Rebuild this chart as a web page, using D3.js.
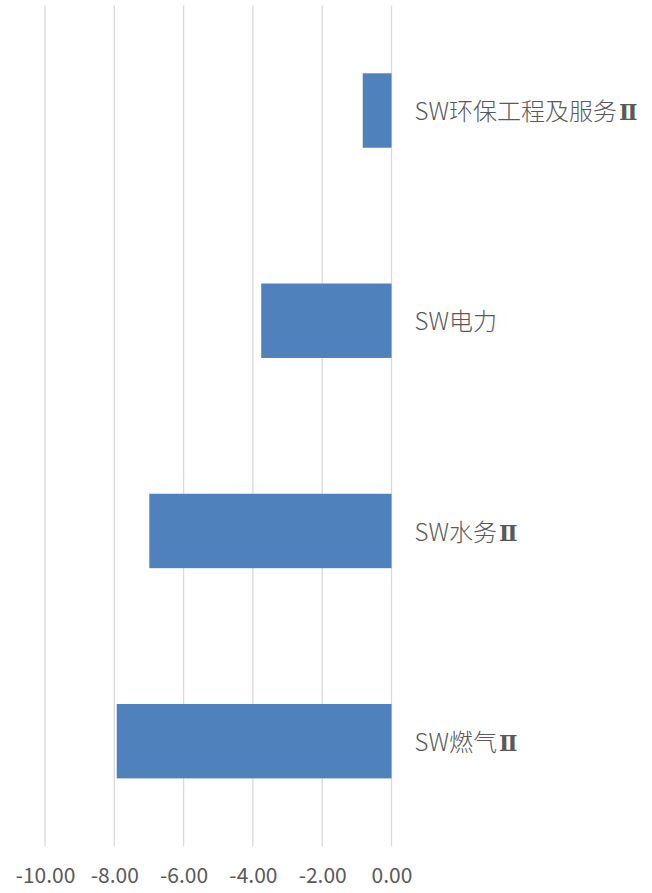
<!DOCTYPE html>
<html>
<head>
<meta charset="utf-8">
<script src="https://cdn.jsdelivr.net/npm/d3@7"></script>
<style>
  body { margin: 0; background: #fff; }
  .grid line { stroke: #d9d9d9; stroke-width: 1.3px; }
  .tick text { fill: #595959; }
</style>
</head>
<body>
<svg width="652" height="893"></svg>
<script>
var categories = ["SW环保工程及服务Ⅱ", "SW电力", "SW水务Ⅱ", "SW燃气Ⅱ"];
var values = [-0.83, -3.76, -6.99, -7.93];
var xTicks = [-10, -8, -6, -4, -2, 0];

var svg = d3.select("svg"),
    plotLeft = 45, plotRight = 391.5,
    plotTop = 5.4, plotBottom = 846.3;

var x = d3.scaleLinear()
    .domain([-10, 0])
    .range([plotLeft, plotRight]);

var y = d3.scaleBand()
    .domain(categories)
    .range([plotTop, plotBottom])
    .paddingInner(0.646)
    .paddingOuter(0.323);

// vertical gridlines
svg.append("g")
    .attr("class", "grid")
    .selectAll("line")
    .data(xTicks)
    .enter().append("line")
      .attr("x1", function(d) { return x(d); })
      .attr("x2", function(d) { return x(d); })
      .attr("y1", plotTop)
      .attr("y2", plotBottom);

svg.append("g")
    .selectAll("rect")
    .data(values)
    .enter().append("rect")
      .attr("x", function(d) { return x(d); })
      .attr("width", function(d) { return x(0) - x(d); })
      .attr("y", function(d, i) { return y(categories[i]); })
      .attr("height", y.bandwidth())
      .style("fill", "#4f81bd");

// x axis labels (plain hyphen, like the original)
var fmt = function(d) { return d3.format(".2f")(d).replace("\u2212", "-"); };
var xAxis = svg.append("g")
    .attr("transform", "translate(0," + plotBottom + ")")
    .call(d3.axisBottom(x).tickValues(xTicks).tickFormat(fmt).tickSize(0).tickPadding(22));
xAxis.select(".domain").remove();
xAxis.selectAll("text")
    .style("font-family", "'Noto Sans CJK SC', 'Noto Sans', sans-serif")
    .style("font-size", "21px");

// category labels to the right of zero
var yAxis = svg.append("g")
    .attr("transform", "translate(" + x(0) + ",0)")
    .call(d3.axisRight(y).tickSize(0).tickPadding(23));
yAxis.select(".domain").remove();
yAxis.selectAll("text")
    .attr("dy", "0.4em")
    .style("font-family", "'Noto Sans CJK SC', sans-serif")
    .style("font-weight", 300)
    .style("font-size", "24px")
    .each(function(d) {
      // the roman numeral comes from a serif face in the original
      var t = d3.select(this), parts = d.split("Ⅱ");
      t.text(null);
      t.append("tspan").text(parts[0]);
      if (parts.length > 1) {
        t.append("tspan")
          .style("font-family", "'DejaVu Serif', serif")
          .style("font-weight", "bold")
          .style("font-size", "22px")
          .attr("dx", 2)
          .text("Ⅱ");
      }
    });
</script>
</body>
</html>
